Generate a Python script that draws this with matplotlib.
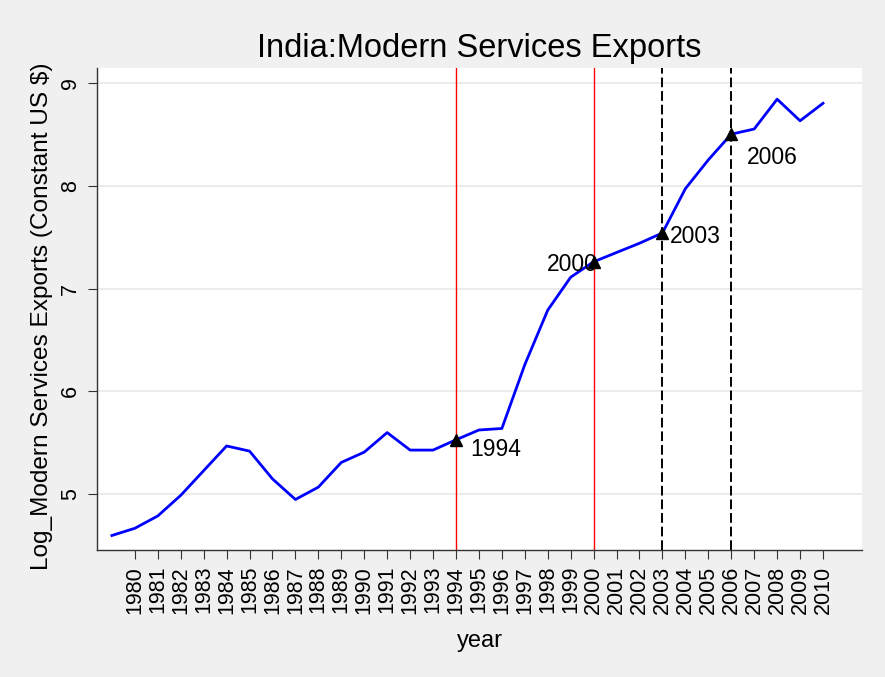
import matplotlib

matplotlib.use("Agg")
import matplotlib.pyplot as plt

YEARS = [1979, 1980, 1981, 1982, 1983, 1984, 1985, 1986, 1987, 1988, 1989,
         1990, 1991, 1992, 1993, 1994, 1995, 1996, 1997, 1998, 1999,
         2000, 2001, 2002, 2003, 2004, 2005, 2006, 2007, 2008, 2009, 2010]
LOG_EXPORTS = [4.60, 4.67, 4.79, 4.99, 5.23, 5.47, 5.42, 5.15, 4.95, 5.07, 5.31,
               5.41, 5.60, 5.43, 5.43, 5.53, 5.625, 5.64, 6.26, 6.79, 7.11,
               7.26, 7.35, 7.44, 7.54, 7.97, 8.25, 8.50, 8.55, 8.84, 8.63, 8.80]
RED_YEARS = [1994, 2000]
DASHED_YEARS = [2003, 2006]
MARKED_YEARS = [1994, 2000, 2003, 2006]
Y_TICKS = [5, 6, 7, 8, 9]

COLOR_OUTER = "#f0f0f0"
COLOR_GRID = "#e8e8e8"
COLOR_AXIS = "#333333"

# label offsets (points) relative to the marker
LABEL_OFFSETS = {1994: (10, -12, "left"), 2000: (3, -6.5, "right"),
                 2003: (5, -7.2, "left"), 2006: (11, -21.6, "left")}

plt.rcParams["font.family"] = ["Liberation Sans", "DejaVu Sans"]

W, H = 885, 677
fig = plt.figure(figsize=(W / 100, H / 100), dpi=100, facecolor=COLOR_OUTER)
ax = fig.add_axes([97 / W, (H - 550) / H, (862 - 97) / W, (550 - 68) / H])
ax.set_facecolor("white")

for y in Y_TICKS:
    ax.axhline(y, color=COLOR_GRID, lw=1.2, zorder=0)
for yr in RED_YEARS:
    ax.axvline(yr, color="#ff0000", lw=1.0, zorder=1)
for yr in DASHED_YEARS:
    ax.axvline(yr, color="black", lw=1.4, linestyle=(0, (5, 2)), zorder=1)

ax.plot(YEARS, LOG_EXPORTS, color="#0000ff", lw=2.0, zorder=3)

for yr in MARKED_YEARS:
    v = LOG_EXPORTS[YEARS.index(yr)]
    ax.plot(yr, v, marker="^", color="black", ms=8.5, ls="none", zorder=4)
    dx, dy, ha = LABEL_OFFSETS[yr]
    ax.annotate(str(yr), (yr, v), xytext=(dx, dy), textcoords="offset points",
                ha=ha, va="baseline", fontsize=16.5, color="black", zorder=5)

ax.set_xlim(1978.35, 2011.7)
ax.set_ylim(4.459, 9.143)
ax.set_xticks(YEARS[1:])
ax.set_xticklabels([str(y) for y in YEARS[1:]], rotation=90)
ax.set_yticks(Y_TICKS)
ax.set_yticklabels([str(y) for y in Y_TICKS], rotation=90, va="center")

ax.tick_params(axis="both", length=6.5, width=0.8, color=COLOR_AXIS, labelsize=15.5, labelcolor="black")
ax.tick_params(axis="x", pad=5)
ax.tick_params(axis="y", pad=5)

for spine in ("top", "right"):
    ax.spines[spine].set_visible(False)
for spine in ("left", "bottom"):
    ax.spines[spine].set_color(COLOR_AXIS)
    ax.spines[spine].set_linewidth(1.0)

ax.set_title("India:Modern Services Exports", fontsize=23.5, pad=8, color="black")
ax.set_xlabel("year", fontsize=17, labelpad=11)
ax.set_ylabel("Log_Modern Services Exports (Constant US $)", fontsize=17.6)
ax.yaxis.set_label_coords(-0.0575, 0.485)

fig.savefig("out.png", dpi=100, facecolor=COLOR_OUTER)
